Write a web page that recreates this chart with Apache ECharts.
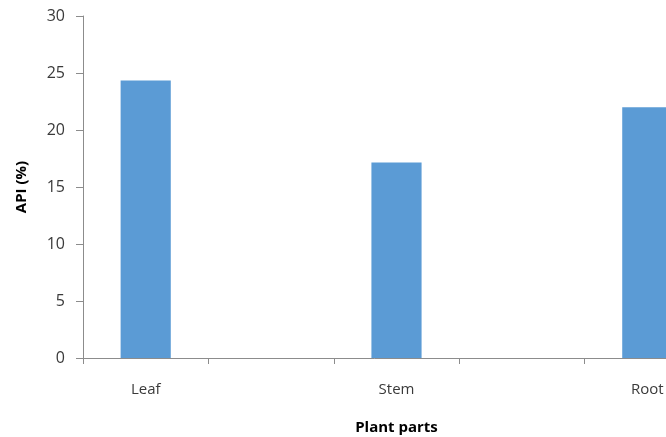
<!DOCTYPE html>
<html>
<head>
<meta charset="utf-8">
<script src="https://cdn.jsdelivr.net/npm/echarts@6/dist/echarts.min.js"></script>
<style>
  html, body { margin: 0; padding: 0; background: #ffffff; }
  #chart { width: 666px; height: 437px; }
</style>
</head>
<body>
<div id="chart"></div>
<script>
// Plant parts with blank spacer slots between them
const categories = ['Leaf', '', 'Stem', '', 'Root'];
const apiValues = [24.35, null, 17.15, null, 22.0];
const yTicks = { min: 0, max: 30, interval: 5 };

const fontFamily = '"Open Sans", "DejaVu Sans", sans-serif';
const axisGray = '#8c8c8c';
const textColor = '#3a3a3a';

const chart = echarts.init(document.getElementById('chart'), null, { renderer: 'canvas' });
chart.setOption({
  backgroundColor: '#ffffff',
  animation: false,
  // the plot area runs past the right edge, so the last bar is cut off
  grid: { left: 83, top: 16, bottom: 79, right: -44, outerBoundsMode: 'none', containLabel: false },
  xAxis: {
    type: 'category',
    data: categories,
    name: 'Plant parts',
    nameLocation: 'middle',
    nameGap: 62,
    nameTextStyle: { fontFamily, fontSize: 15, fontWeight: 'bold', color: '#000000' },
    axisLine: { lineStyle: { color: axisGray, width: 1 } },
    axisTick: { show: true, length: 6, lineStyle: { color: axisGray } },
    axisLabel: { margin: 24, fontFamily, fontSize: 15, color: textColor, interval: 0 }
  },
  yAxis: {
    type: 'value',
    min: yTicks.min,
    max: yTicks.max,
    interval: yTicks.interval,
    name: 'API (%)',
    nameLocation: 'middle',
    nameGap: 54,
    nameRotate: 90,
    nameTextStyle: { fontFamily, fontSize: 15, fontWeight: 'bold', color: '#000000' },
    axisLine: { show: true, lineStyle: { color: axisGray, width: 1 } },
    axisTick: { show: true, length: 7, lineStyle: { color: axisGray } },
    axisLabel: { margin: 18, fontFamily, fontSize: 16, color: textColor },
    splitLine: { show: false }
  },
  series: [{
    type: 'bar',
    data: apiValues,
    barWidth: '40%',
    itemStyle: { color: '#5b9bd5' }
  }]
});
</script>
</body>
</html>
